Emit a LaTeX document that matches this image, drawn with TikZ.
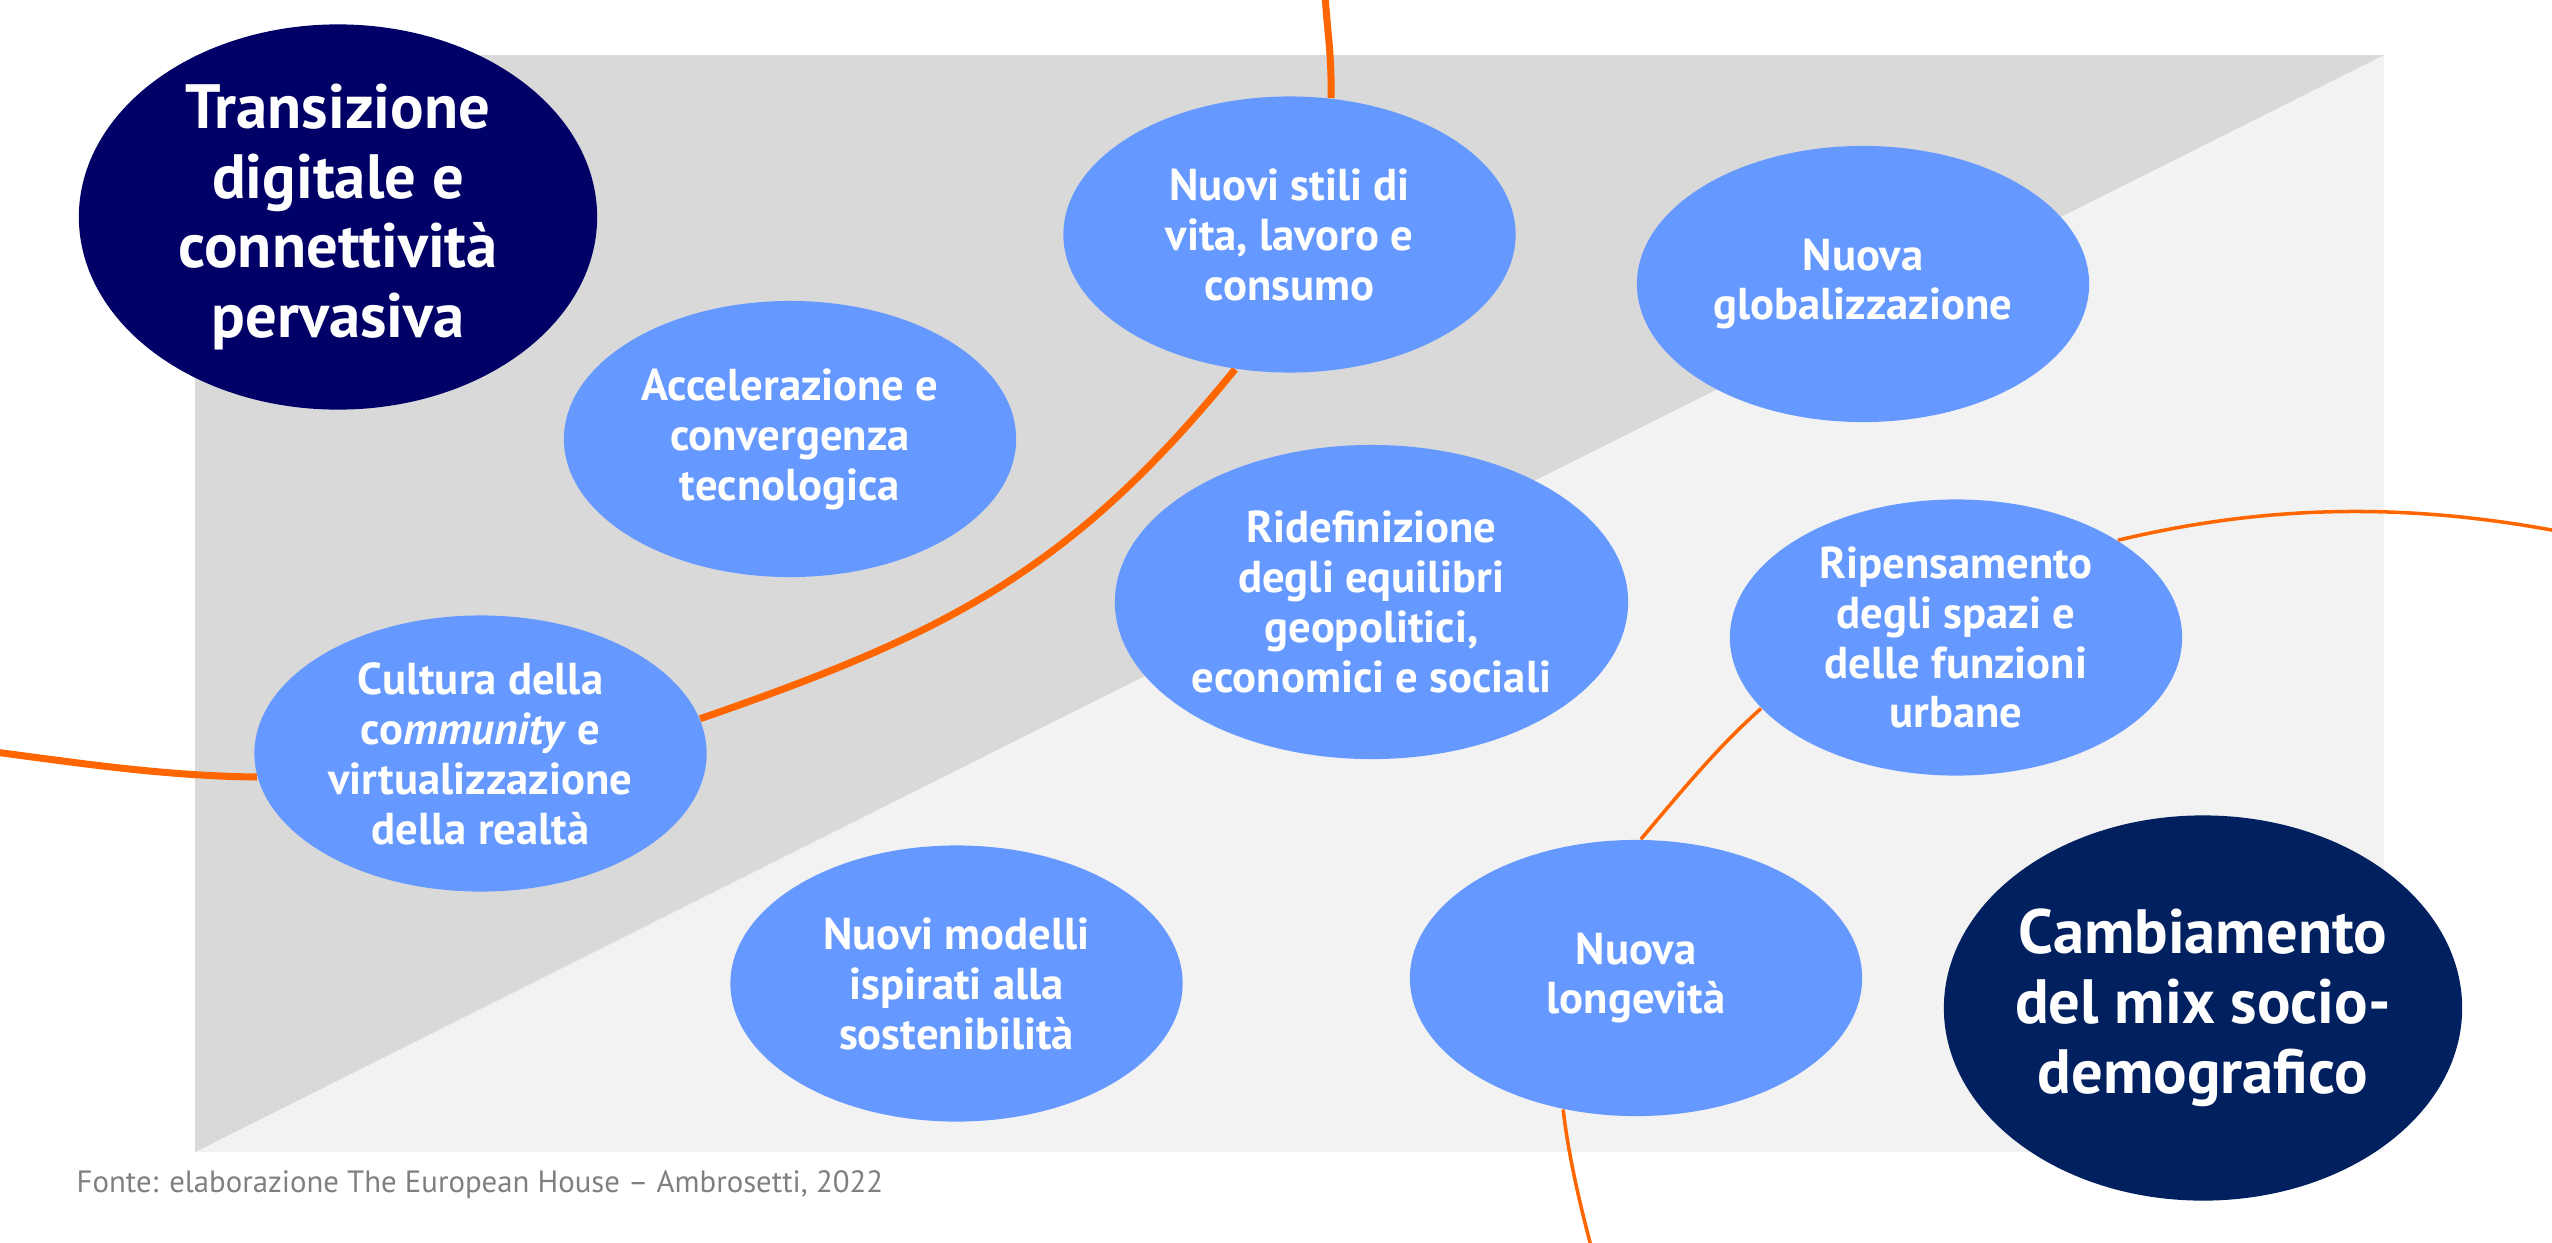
\documentclass[tikz,border=0pt]{standalone}
\usepackage{fontspec}
\setmainfont{PT Sans}
\usetikzlibrary{shapes.geometric}
\definecolor{navyA}{HTML}{000066}
\definecolor{navyB}{HTML}{002060}
\definecolor{bubblue}{HTML}{6699FF}
\definecolor{arcorange}{HTML}{FF6600}
\definecolor{greyD}{HTML}{D9D9D9}
\definecolor{greyL}{HTML}{F2F2F2}
\definecolor{notegrey}{HTML}{7F7F7F}
\pgfdeclarelayer{bg}
\pgfdeclarelayer{wires}
\pgfsetlayers{bg,wires,main}
\tikzset{
  bubble/.style={ellipse, fill=bubblue, text=white, inner sep=-3pt, align=center,
    minimum width=4.52cm, minimum height=2.76cm,
    font=\fontsize{12.7}{14.2}\selectfont\bfseries},
  bigbubble/.style={bubble, minimum width=5.18cm, minimum height=3.85cm,
    font=\fontsize{17.8}{19.9}\selectfont\bfseries},
  thread/.style={draw=arcorange, line width=2pt},
  thinthread/.style={draw=arcorange, line width=1pt},
}
\begin{document}
\begin{tikzpicture}[x=0.01cm, y=-0.01cm]
    \useasboundingbox (0,0) rectangle (2552,1242);
    \begin{pgfonlayer}{bg}
    \fill[greyL] (195,55) rectangle (2384,1152);
    \fill[greyD] (195,55) -- (2384,55) -- (195,1152) -- cycle;
    \end{pgfonlayer}
    % the trends
    \node[bigbubble, fill=navyA] (trans) at (338,217) {Transizione\\digitale e\\connettività\\pervasiva};
    \node[bubble] (accel) at (790,439) {Accelerazione e\\convergenza\\tecnologica};
    \node[bubble] (stili) at (1289.5,234.5) {Nuovi stili di\\vita, lavoro e\\consumo};
    \node[bubble] (glob) at (1863,284) {Nuova\\globalizzazione};
    \node[bubble, minimum width=5.13cm, minimum height=3.14cm] (ridef) at (1371.5,602) {Ridefinizione\\degli equilibri\\geopolitici,\\economici e sociali};
    \node[bubble] (ripens) at (1956,637.5) {Ripensamento\\degli spazi e\\delle funzioni\\urbane};
    \node[bubble] (cultura) at (480.5,753.5) {Cultura della\\co\textit{mmunity} e\\virtualizzazione\\della realtà};
    \node[bubble] (modelli) at (956.5,983.5) {Nuovi modelli\\ispirati alla\\sostenibilità};
    \node[bubble] (longev) at (1636,978) {Nuova\\longevità};
    \node[bigbubble, fill=navyB] (cambio) at (2203,1008) {Cambiamento\\del mix socio-\\demografico};
    \node[anchor=base west, inner sep=0pt, text=notegrey, font=\fontsize{8.75}{10}\selectfont] (fonte) at (76,1192) {Fonte: elaborazione The European House – Ambrosetti, 2022};
    % orange threads
    \coordinate (westend) at (-5,752);
    \coordinate (topend) at (1325,-5);
    \coordinate (eastend) at (2557,531);
    \coordinate (southend) at (1592,1250);
    \begin{pgfonlayer}{wires}
    \draw[thread] (westend) .. controls +(90,12) and +(-90,-1) .. (cultura.186);
    \draw[thread] (cultura.9) .. controls +(246,-85) and +(-164,202) .. (stili.248);
    \draw[thread] (stili.73) .. controls +(0,-50) and +(3,45) .. (topend);
    \draw[thinthread] (ripens.31) .. controls +(150,-36) and +(-150,-28) .. (eastend);
    \draw[thinthread] (ripens.200) .. controls +(-45,40) and +(39,-46) .. (longev.88);
    \draw[thinthread] (longev.241) .. controls +(5,45) and +(-12,-45) .. (southend);
    \end{pgfonlayer}
\end{tikzpicture}
\end{document}
